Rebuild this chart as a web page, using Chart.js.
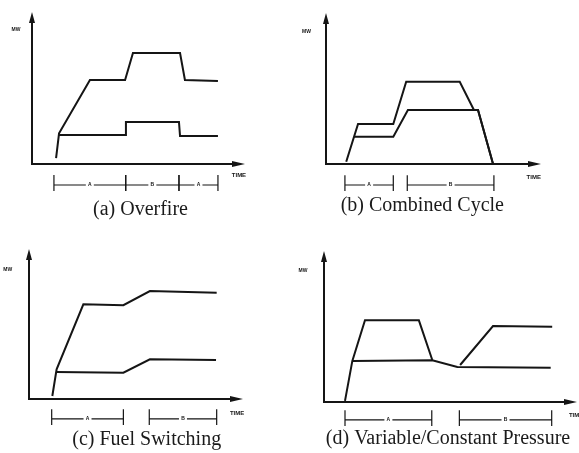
<!DOCTYPE html>
<html>
<head>
<meta charset="utf-8">
<title>Load profiles</title>
<script src="https://cdn.jsdelivr.net/npm/chart.js@4.4.1/dist/chart.umd.min.js"></script>
<style>
  body { margin: 0; background: #fff; }
  #wrap { position: relative; width: 579px; height: 453px; overflow: hidden; }
  canvas { position: absolute; }
</style>
</head>
<body>
<div id="wrap">
  <canvas id="chartA" width="289" height="226" style="left:0;top:0"></canvas>
  <canvas id="chartB" width="290" height="226" style="left:289px;top:0"></canvas>
  <canvas id="chartC" width="289" height="227" style="left:0;top:226px"></canvas>
  <canvas id="chartD" width="290" height="227" style="left:289px;top:226px"></canvas>
</div>
<script>
// values are % of axis length (time 0-100, MW 0-100)

// (a) Overfire
const overfireUpperTime = [11.3, 12.7, 27.2, 43.7, 47.4, 69.5, 71.8, 87.3];
const overfireUpperMW = [3.9, 20.2, 55.3, 55.3, 73.0, 73.0, 55.3, 54.6];
const overfireLowerTime = [12.7, 43.7, 44.1, 69.0, 69.5, 87.3];
const overfireLowerMW = [19.1, 19.1, 27.6, 27.6, 18.4, 18.4];
const overfirePeriods = [[10.3, 44.0], [44.0, 69.0], [69.0, 87.3]];
const overfirePeriodLabels = ['A', 'B', 'A'];

// (b) Combined Cycle
const combinedUpperTime = [9.4, 14.9, 31.3, 37.3, 62.2, 68.8, 70.7, 77.7];
const combinedUpperMW = [1.5, 26.5, 26.5, 54.5, 54.5, 35.8, 35.8, 0];
const combinedLowerTime = [13.0, 31.3, 38.1, 70.7, 77.7];
const combinedLowerMW = [18.1, 18.1, 35.8, 35.8, 0];
const combinedPeriods = [[8.8, 31.3], [37.8, 78.1]];
const combinedPeriodLabels = ['A', 'B'];

// (c) Fuel Switching
const fuelUpperTime = [10.9, 12.9, 25.4, 44.1, 56.5, 87.7];
const fuelUpperMW = [2.0, 19.8, 63.1, 62.5, 72.0, 70.9];
const fuelLowerTime = [12.7, 44.1, 56.5, 87.4];
const fuelLowerMW = [18.0, 17.5, 26.5, 26.0];
const fuelPeriods = [[10.6, 44.1], [56.2, 87.7]];
const fuelPeriodLabels = ['A', 'B'];

// (d) Variable/Constant Pressure
const pressureUpperTime = [8.3, 11.2, 16.2, 37.5, 42.8];
const pressureUpperMW = [0.7, 27.2, 54.1, 54.1, 27.8];
const pressureReturnTime = [53.8, 66.8, 90.2];
const pressureReturnMW = [24.5, 50.3, 49.9];
const pressureLowerTime = [11.2, 42.8, 52.7, 89.6];
const pressureLowerMW = [27.2, 27.6, 23.2, 22.7];
const pressurePeriods = [[8.3, 42.6], [53.5, 90.0]];
const pressurePeriodLabels = ['A', 'B'];

const ink = '#151515';

function toPoints(xs, ys) {
  return xs.map((x, i) => ({ x: x, y: ys[i] }));
}

function curve(xs, ys) {
  return { data: toPoints(xs, ys), borderColor: ink, borderWidth: 2, showLine: true, pointRadius: 0, tension: 0, clip: false };
}

// bracket under the time axis: end ticks + horizontal line
function periodLines(periods, level) {
  return periods.map(p => ({
    data: [
      { x: p[0], y: level + 6.5 }, { x: p[0], y: level - 4 }, { x: p[0], y: level },
      { x: p[1], y: level }, { x: p[1], y: level + 6.5 }, { x: p[1], y: level - 4 }
    ],
    borderColor: ink, borderWidth: 1.2, showLine: true, pointRadius: 0, tension: 0, clip: false
  }));
}

const sketchPlugin = {
  id: 'sketch',
  afterDatasetsDraw(chart) {
    const o = chart.options.plugins.sketch;
    const ctx = chart.ctx;
    const xs = chart.scales.x, ys = chart.scales.y;
    const x0 = xs.getPixelForValue(0), y0 = ys.getPixelForValue(0);
    const xTip = xs.getPixelForValue(100), yTip = ys.getPixelForValue(100);
    ctx.save();
    ctx.strokeStyle = ink;
    ctx.fillStyle = ink;
    ctx.lineWidth = 2;
    ctx.beginPath();
    ctx.moveTo(x0, y0 + 1);
    ctx.lineTo(x0, yTip + 4);
    ctx.moveTo(x0 - 1, y0);
    ctx.lineTo(xTip - 6, y0);
    ctx.stroke();
    // arrow heads
    ctx.beginPath();
    ctx.moveTo(x0, yTip);
    ctx.lineTo(x0 - 3, yTip + 11);
    ctx.lineTo(x0 + 3, yTip + 11);
    ctx.closePath();
    ctx.fill();
    ctx.beginPath();
    ctx.moveTo(xTip, y0);
    ctx.lineTo(xTip - 13, y0 - 3);
    ctx.lineTo(xTip - 13, y0 + 3);
    ctx.closePath();
    ctx.fill();

    ctx.font = 'bold 5px "Liberation Sans"';
    ctx.textAlign = 'center';
    ctx.textBaseline = 'middle';
    ctx.fillText('MW', xs.getPixelForValue(o.mw[0]), ys.getPixelForValue(o.mw[1]));
    ctx.font = 'bold 6px "Liberation Sans"';
    ctx.textAlign = 'left';
    ctx.fillText('TIME', xs.getPixelForValue(o.time[0]), ys.getPixelForValue(o.time[1]));

    // period letters sit in a gap of the bracket line
    ctx.font = 'bold 5px "Liberation Sans"';
    ctx.textAlign = 'center';
    o.periods.forEach((p, i) => {
      const px = xs.getPixelForValue((p[0] + p[1]) / 2);
      const py = ys.getPixelForValue(o.level);
      ctx.fillStyle = '#fff';
      ctx.fillRect(px - 4, py - 3, 8, 6);
      ctx.fillStyle = ink;
      ctx.fillText(o.labels[i], px, py);
    });

    ctx.font = '20px "Liberation Serif"';
    ctx.textBaseline = 'alphabetic';
    ctx.fillStyle = '#1a1a1a';
    ctx.fillText(o.caption, o.capX, o.capY);
    ctx.restore();
  }
};

const panels = [
  { id: 'chartA', padding: { left: 32, right: 44, top: 12, bottom: 62 },
    series: [curve(overfireUpperTime, overfireUpperMW), curve(overfireLowerTime, overfireLowerMW)],
    periods: overfirePeriods, labels: overfirePeriodLabels, level: -13.8,
    mw: [-7.5, 88.2], time: [93.8, -7.6], caption: '(a) Overfire', capX: 140.5, capY: 215 },
  { id: 'chartB', padding: { left: 37, right: 38, top: 13, bottom: 62 },
    series: [curve(combinedUpperTime, combinedUpperMW), curve(combinedLowerTime, combinedLowerMW)],
    periods: combinedPeriods, labels: combinedPeriodLabels, level: -13.9,
    mw: [-9.1, 87.4], time: [93.3, -8.9], caption: '(b) Combined Cycle', capX: 133.3, capY: 211 },
  { id: 'chartC', padding: { left: 29, right: 46, top: 23, bottom: 54 },
    series: [curve(fuelUpperTime, fuelUpperMW), curve(fuelLowerTime, fuelLowerMW)],
    periods: fuelPeriods, labels: fuelPeriodLabels, level: -13.3,
    mw: [-9.9, 86.5], time: [93.9, -9.6], caption: '(c) Fuel Switching', capX: 146.7, capY: 219 },
  { id: 'chartD', padding: { left: 35, right: 2, top: 25, bottom: 51 },
    series: [curve(pressureUpperTime, pressureUpperMW), curve(pressureReturnTime, pressureReturnMW),
      curve(pressureLowerTime, pressureLowerMW)],
    periods: pressurePeriods, labels: pressurePeriodLabels, level: -11.9,
    mw: [-8.3, 86.8], time: [96.8, -9.0], caption: '(d) Variable/Constant Pressure', capX: 159, capY: 218 }
];

panels.forEach(p => {
  new Chart(document.getElementById(p.id), {
    type: 'scatter',
    data: { datasets: p.series.concat(periodLines(p.periods, p.level)) },
    options: {
      responsive: false,
      animation: false,
      layout: { padding: p.padding },
      scales: {
        x: { type: 'linear', min: 0, max: 100, display: false },
        y: { type: 'linear', min: 0, max: 100, display: false }
      },
      plugins: {
        legend: { display: false },
        tooltip: { enabled: false },
        sketch: p
      }
    },
    plugins: [sketchPlugin]
  });
});
</script>
</body>
</html>
